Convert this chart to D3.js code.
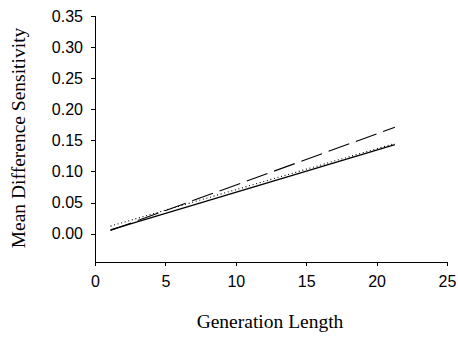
<!DOCTYPE html>
<html>
<head>
<meta charset="utf-8">
<script src="https://cdn.jsdelivr.net/npm/d3@7"></script>
<style>
  body { margin: 0; background: #fff; }
</style>
</head>
<body>
<div id="chart"></div>
<script>
// generation length at the ends of each fitted line
const generations = [1.1, 21.3];
const solidValues = [0.006, 0.143];
const dashedValues = [0.005, 0.171];
const dottedValues = [0.012, 0.145];

const xTicks = [0, 5, 10, 15, 20, 25];
const yTicks = [0, 0.05, 0.10, 0.15, 0.20, 0.25, 0.30, 0.35];

const width = 458, height = 341;
const margin = {top: 16, right: 11, bottom: 79, left: 95};
const tickFont = '"Liberation Sans", Arial, sans-serif';
const titleFont = '"Liberation Serif", "Times New Roman", serif';

const svg = d3.select('#chart').append('svg')
  .attr('width', width)
  .attr('height', height);

const x = d3.scaleLinear()
  .domain([0, 25])
  .range([margin.left, width - margin.right]);

const y = d3.scaleLinear()
  .domain([-0.0457, 0.35])
  .range([height - margin.bottom, margin.top]);

function styleAxis(g) {
  g.attr('font-size', null).attr('font-family', null);
  g.selectAll('path, line').attr('stroke', '#000').attr('shape-rendering', 'crispEdges');
  g.selectAll('text')
    .style('font-family', tickFont)
    .style('font-size', '16px')
    .attr('fill', '#000');
}

// x axis sits at the bottom of the plot
svg.append('g')
  .attr('transform', `translate(0,${height - margin.bottom})`)
  .call(d3.axisBottom(x).tickValues(xTicks).tickSize(4).tickPadding(10).tickFormat(d3.format('d')))
  .call(styleAxis);

svg.append('g')
  .attr('transform', `translate(${margin.left},0)`)
  .call(d3.axisLeft(y).tickValues(yTicks).tickSize(4).tickPadding(8).tickFormat(d3.format('.2f')))
  .call(g => g.select('.domain').attr('d', `M0,${y(0.35)}V${y(-0.0457)}`))
  .call(styleAxis);

const series = [
  {values: solidValues, dash: null, w: 1.3},
  {values: dashedValues, dash: '22,7', w: 1.1},
  {values: dottedValues, dash: '1,2.7', w: 1.1}
];

const line = d3.line()
  .x(d => x(d[0]))
  .y(d => y(d[1]));

svg.selectAll('.series')
  .data(series)
  .join('path')
  .attr('class', 'series')
  .attr('fill', 'none')
  .attr('stroke', '#000')
  .attr('stroke-width', d => d.w)
  .attr('stroke-dasharray', d => d.dash)
  .attr('d', d => line(generations.map((g, i) => [g, d.values[i]])));

svg.append('text')
  .style('font-family', titleFont)
  .style('font-size', '19.5px')
  .attr('text-anchor', 'middle')
  .attr('x', 270)
  .attr('y', 328)
  .text('Generation Length');

svg.append('text')
  .style('font-family', titleFont)
  .style('font-size', '19.5px')
  .attr('text-anchor', 'middle')
  .attr('transform', 'translate(25,138) rotate(-90)')
  .text('Mean Difference Sensitivity');
</script>
</body>
</html>
